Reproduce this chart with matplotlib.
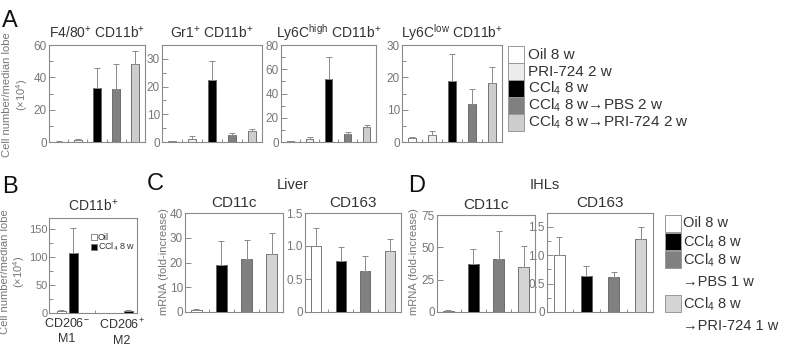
import numpy as np
import matplotlib
matplotlib.use("Agg")
import matplotlib.pyplot as plt
from matplotlib.patches import Rectangle
from matplotlib.ticker import MultipleLocator

plt.rcParams['font.family'] = ['Liberation Sans', 'DejaVu Sans']
plt.rcParams['mathtext.fontset'] = 'custom'
plt.rcParams['mathtext.rm'] = 'Liberation Sans'
plt.rcParams['mathtext.it'] = 'Liberation Sans:italic'
plt.rcParams['mathtext.default'] = 'regular'

# ==========================================
# data
# ==========================================
groups_a = ['Oil 8 w', 'PRI-724 2 w', 'CCl$_4$ 8 w',
            'CCl$_4$ 8 w→PBS 2 w', 'CCl$_4$ 8 w→PRI-724 2 w']
colors_a = ['#ffffff', '#ececec', '#000000', '#808080', '#cdcdcd']

f480_mean = [0.3, 1.2, 33.5, 32.5, 48.0]
f480_err = [0.2, 0.8, 12.0, 15.5, 8.5]
gr1_mean = [0.3, 1.2, 22.2, 2.5, 4.0]
gr1_err = [0.2, 1.1, 7.0, 0.7, 0.6]
ly6h_mean = [0.8, 2.5, 52.0, 7.0, 12.0]
ly6h_err = [0.3, 1.5, 18.0, 1.5, 2.0]
ly6l_mean = [1.2, 2.2, 19.0, 11.8, 18.3]
ly6l_err = [0.3, 1.3, 8.3, 4.5, 5.0]

b_cats = ['CD206$^{-}$\nM1', 'CD206$^{+}$\nM2']
b_oil_mean = [3.0, 0.0]
b_oil_err = [2.0, 0.0]
b_ccl4_mean = [107.0, 4.0]
b_ccl4_err = [45.0, 1.5]

colors_cd = ['#ffffff', '#000000', '#808080', '#d4d4d4']
liver_cd11c = [1.0, 19.0, 21.3, 23.5]
liver_cd11c_err = [0.2, 9.7, 7.9, 8.5]
liver_cd163 = [1.0, 0.77, 0.62, 0.93]
liver_cd163_err = [0.27, 0.21, 0.23, 0.17]
ihl_cd11c = [1.0, 37.5, 41.0, 35.0]
ihl_cd11c_err = [0.3, 11.0, 22.0, 16.0]
ihl_cd163 = [1.0, 0.64, 0.62, 1.28]
ihl_cd163_err = [0.32, 0.17, 0.09, 0.22]

legend_d = ['Oil 8 w', 'CCl$_4$ 8 w', 'CCl$_4$ 8 w\n→PBS 1 w',
            'CCl$_4$ 8 w\n→PRI-724 1 w']

AXC = '#8a8a8a'
TICKC = '#777777'
TXT = '#333333'
EDGE = '#606060'
ERRC = '#8a8a8a'

W, H = 786, 347
fig = plt.figure(figsize=(W / 100, H / 100), dpi=100)


def add_ax(x0, y0, x1, y1):
    return fig.add_axes([x0 / W, 1 - y1 / H, (x1 - x0) / W, (y1 - y0) / H])


def style_ax(ax, ymax, major, minor, n, xlim):
    ax.set_ylim(0, ymax)
    ax.set_xlim(*xlim)
    ax.yaxis.set_major_locator(MultipleLocator(major))
    if minor:
        ax.yaxis.set_minor_locator(MultipleLocator(minor))
    ax.set_xticks([])
    ax.set_xticks(np.arange(n - 1) + 0.5, minor=True)
    ax.tick_params(axis='y', which='both', direction='in', color=AXC,
                   labelcolor=TICKC, labelsize=8.5, pad=1.5, width=0.7)
    ax.tick_params(axis='y', which='major', length=4)
    ax.tick_params(axis='y', which='minor', length=3)
    ax.tick_params(axis='x', which='minor', direction='in', length=2,
                   color=AXC, width=0.7)
    for s in ax.spines.values():
        s.set_color(AXC)
        s.set_linewidth(0.8)


def draw_bars(ax, mean, err, colors, width):
    n = len(mean)
    ax.bar(np.arange(n), mean, width=width, color=colors, edgecolor=EDGE,
           linewidth=0.6, yerr=[np.zeros(n), err],
           error_kw=dict(ecolor=ERRC, elinewidth=0.7, capsize=2, capthick=0.7),
           zorder=3)


# ==========================================
# panel A
# ==========================================
a_specs = [
    ((49, 45, 145, 142), f480_mean, f480_err, 60, 20, 10, 'F4/80$^{+}$ CD11b$^{+}$'),
    ((162, 45, 262, 142), gr1_mean, gr1_err, 35, 10, 5, 'Gr1$^{+}$ CD11b$^{+}$'),
    ((281, 45, 376, 142), ly6h_mean, ly6h_err, 80, 20, 10, 'Ly6C$^{high}$ CD11b$^{+}$'),
    ((402, 45, 502, 142), ly6l_mean, ly6l_err, 30, 10, 5, 'Ly6C$^{low}$ CD11b$^{+}$'),
]
for rect, m, e, ymax, maj, mnr, title in a_specs:
    ax = add_ax(*rect)
    draw_bars(ax, m, e, colors_a, 0.42)
    style_ax(ax, ymax, maj, mnr, 5, (-0.5, 4.5))
    ax.set_title(title, fontsize=10, color=TXT, pad=5)

# ==========================================
# panel B
# ==========================================
axb = add_ax(49, 218, 137, 313)
xb = np.arange(len(b_cats))
bw = 0.165
axb.bar(xb - 0.11, b_oil_mean, width=bw, color='#ffffff', edgecolor=EDGE,
        linewidth=0.6, yerr=[np.zeros(2), b_oil_err],
        error_kw=dict(ecolor=ERRC, elinewidth=0.7, capsize=2, capthick=0.7), zorder=3)
axb.bar(xb + 0.11, b_ccl4_mean, width=bw, color='#000000', edgecolor=EDGE,
        linewidth=0.6, yerr=[np.zeros(2), b_ccl4_err],
        error_kw=dict(ecolor=ERRC, elinewidth=0.7, capsize=2, capthick=0.7), zorder=3)
style_ax(axb, 170, 50, 25, 2, (-0.33, 1.27))
axb.set_xticks(xb)
axb.set_xticklabels(b_cats, fontsize=9, color=TXT, linespacing=1.3)
axb.tick_params(axis='x', which='major', length=0, pad=3)
axb.tick_params(axis='y', which='major', labelsize=8, pad=1)
axb.set_title('CD11b$^{+}$', fontsize=10, color=TXT, pad=5)

# ==========================================
# panels C, D
# ==========================================
cd_specs = [
    ((185, 213, 283, 312), liver_cd11c, liver_cd11c_err, 40, 10, None, 'CD11c'),
    ((305, 213, 401, 312), liver_cd163, liver_cd163_err, 1.5, 0.5, None, 'CD163'),
    ((437, 215, 535, 312), ihl_cd11c, ihl_cd11c_err, 75, 25, None, 'CD11c'),
    ((547, 213, 653, 312), ihl_cd163, ihl_cd163_err, 1.74, 0.5, 0.25, 'CD163'),
]
for rect, m, e, ymax, maj, mnr, title in cd_specs:
    ax = add_ax(*rect)
    draw_bars(ax, m, e, colors_cd, 0.42)
    style_ax(ax, ymax, maj, mnr, 4, (-0.45, 3.45))
    ax.set_title(title, fontsize=11, color=TXT, pad=4)
    if ymax < 2:
        ax.yaxis.set_major_formatter(lambda v, p: '0' if v == 0 else f'{v:.1f}')

# ==========================================
# overlay: letters, labels, legends
# ==========================================
ov = fig.add_axes([0, 0, 1, 1])
ov.set_xlim(0, W)
ov.set_ylim(H, 0)
ov.axis('off')

for s, x, y in [('A', 2, 21), ('B', 2, 187), ('C', 147, 184), ('D', 408, 186)]:
    ov.text(x, y, s, fontsize=17, color='#111111', va='center', ha='left')

ylab = 'Cell number/median lobe\n($\\times$10$^4$)'
ov.text(16, 95, ylab, rotation=90, ha='center', va='center', fontsize=8,
        color=TICKC, linespacing=1.25)
ov.text(13.5, 272, ylab, rotation=90, ha='center', va='center', fontsize=8,
        color=TICKC, linespacing=1.15)
ov.text(164, 262, 'mRNA (fold-increase)', rotation=90, ha='center', va='center',
        fontsize=8, color=TICKC)
ov.text(414, 262, 'mRNA (fold-increase)', rotation=90, ha='center', va='center',
        fontsize=8, color=TICKC)
ov.text(293, 185, 'Liver', ha='center', va='center', fontsize=10.5, color=TXT)
ov.text(545, 185, 'IHLs', ha='center', va='center', fontsize=10.5, color=TXT)

# legend A
for i, (lab, c) in enumerate(zip(groups_a, colors_a)):
    y0 = 46 + i * 17
    ov.add_patch(Rectangle((508, y0), 16, 17, facecolor=c, edgecolor='#999999', lw=0.7))
    ov.text(528, y0 + 8.5, lab, ha='left', va='center', fontsize=11, color=TXT)

# legend B (inside panel B)
for i, (lab, c) in enumerate(zip(['Oil', 'CCl$_4$ 8 w'], ['#ffffff', '#000000'])):
    y0 = 234 + i * 10
    ov.add_patch(Rectangle((91, y0), 6, 6, facecolor=c, edgecolor='#777777', lw=0.6))
    ov.text(98, y0 + 3, lab, ha='left', va='center', fontsize=6.5, color=TXT)

# legend D
d_rows = [(215, 17), (233, 17), (251, 17), (295, 17)]
for (y0, h), lab, c in zip(d_rows, legend_d, colors_cd):
    ov.add_patch(Rectangle((665, y0), 16, h, facecolor=c, edgecolor='#999999', lw=0.7))
    ov.text(683, y0 + 1, lab, ha='left', va='top', fontsize=10.5, color=TXT,
            linespacing=1.5)

fig.savefig('out.png', dpi=100)
